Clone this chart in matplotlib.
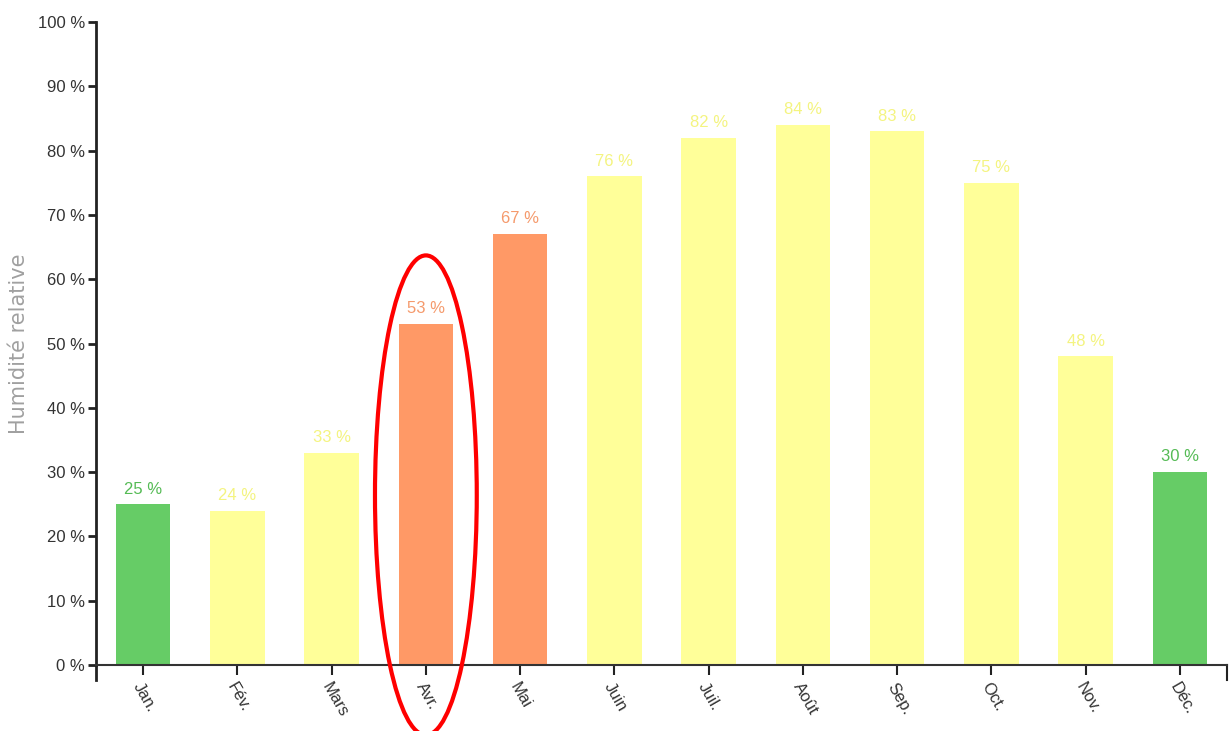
import matplotlib
matplotlib.use("Agg")
import matplotlib.pyplot as plt
from matplotlib.patches import Ellipse
from matplotlib import font_manager

months = ["Jan.", "Fév.", "Mars", "Avr.", "Mai", "Juin", "Juil.", "Août", "Sep.", "Oct.", "Nov.", "Déc."]
humidity = [25, 24, 33, 53, 67, 76, 82, 84, 83, 75, 48, 30]
category = ["g", "y", "y", "o", "o", "y", "y", "y", "y", "y", "y", "g"]
yticks = [0, 10, 20, 30, 40, 50, 60, 70, 80, 90, 100]

names = {f.name for f in font_manager.fontManager.ttflist}
fam = "Liberation Sans Narrow" if "Liberation Sans Narrow" in names else "Liberation Sans"
plt.rcParams['font.family'] = [fam, 'DejaVu Sans']

bar_col = {"g": "#66cc66", "y": "#ffff99", "o": "#ff9966"}
txt_col = {"g": "#55bb55", "y": "#f4f480", "o": "#f59a6c"}

W, H = 1229, 731
fig = plt.figure(figsize=(W / 100, H / 100), dpi=100)
ax = fig.add_axes([96 / W, (H - 665) / H, (1227 - 96) / W, (665 - 22) / H])

xs = list(range(len(months)))
ax.bar(xs, humidity, width=0.58, color=[bar_col[c] for c in category], zorder=2)
for x, v, c in zip(xs, humidity, category):
    ax.text(x, v + 1.2, f"{v} %", ha="center", va="bottom", fontsize=12,
            color=txt_col[c], zorder=3)

ax.set_xlim(-0.5, len(months) - 0.5)
ax.set_ylim(0, 100)
ax.set_yticks(yticks)
ax.set_yticklabels([f"{t} %" for t in yticks], fontsize=12, color="#333333")
ax.set_xticks(xs)
ax.set_xticklabels(months, rotation=-60, ha="left", va="top", rotation_mode="anchor",
                   fontsize=12, color="#333333")
ax.tick_params(axis="y", length=6, width=2, color="#222222", pad=2)
ax.tick_params(axis="x", length=7, width=1.5, color="#222222", pad=4)
for s in ["top", "right"]:
    ax.spines[s].set_visible(False)
ax.spines["left"].set_linewidth(2)
ax.spines["left"].set_color("#222222")
ax.spines["bottom"].set_linewidth(1.5)
ax.spines["bottom"].set_color("#333333")
ax.plot([-0.5, -0.5], [0, -2.3], color="#222222", lw=2, clip_on=False)
ax.plot([len(months) - 0.5, len(months) - 0.5], [0, -2.3], color="#222222", lw=1.5, clip_on=False)

ax.set_ylabel("Humidité relative", fontsize=15, color="#a0a0a0",
              family=["DejaVu Sans"], va="center")
ax.yaxis.set_label_coords(-77 / (1227 - 96), 0.5)

ell = Ellipse((3, 26.4), width=1.08, height=74.6, fill=False, edgecolor="#ff0000",
              lw=3, clip_on=False, zorder=5)
ax.add_patch(ell)

fig.savefig("out.png", dpi=100)
